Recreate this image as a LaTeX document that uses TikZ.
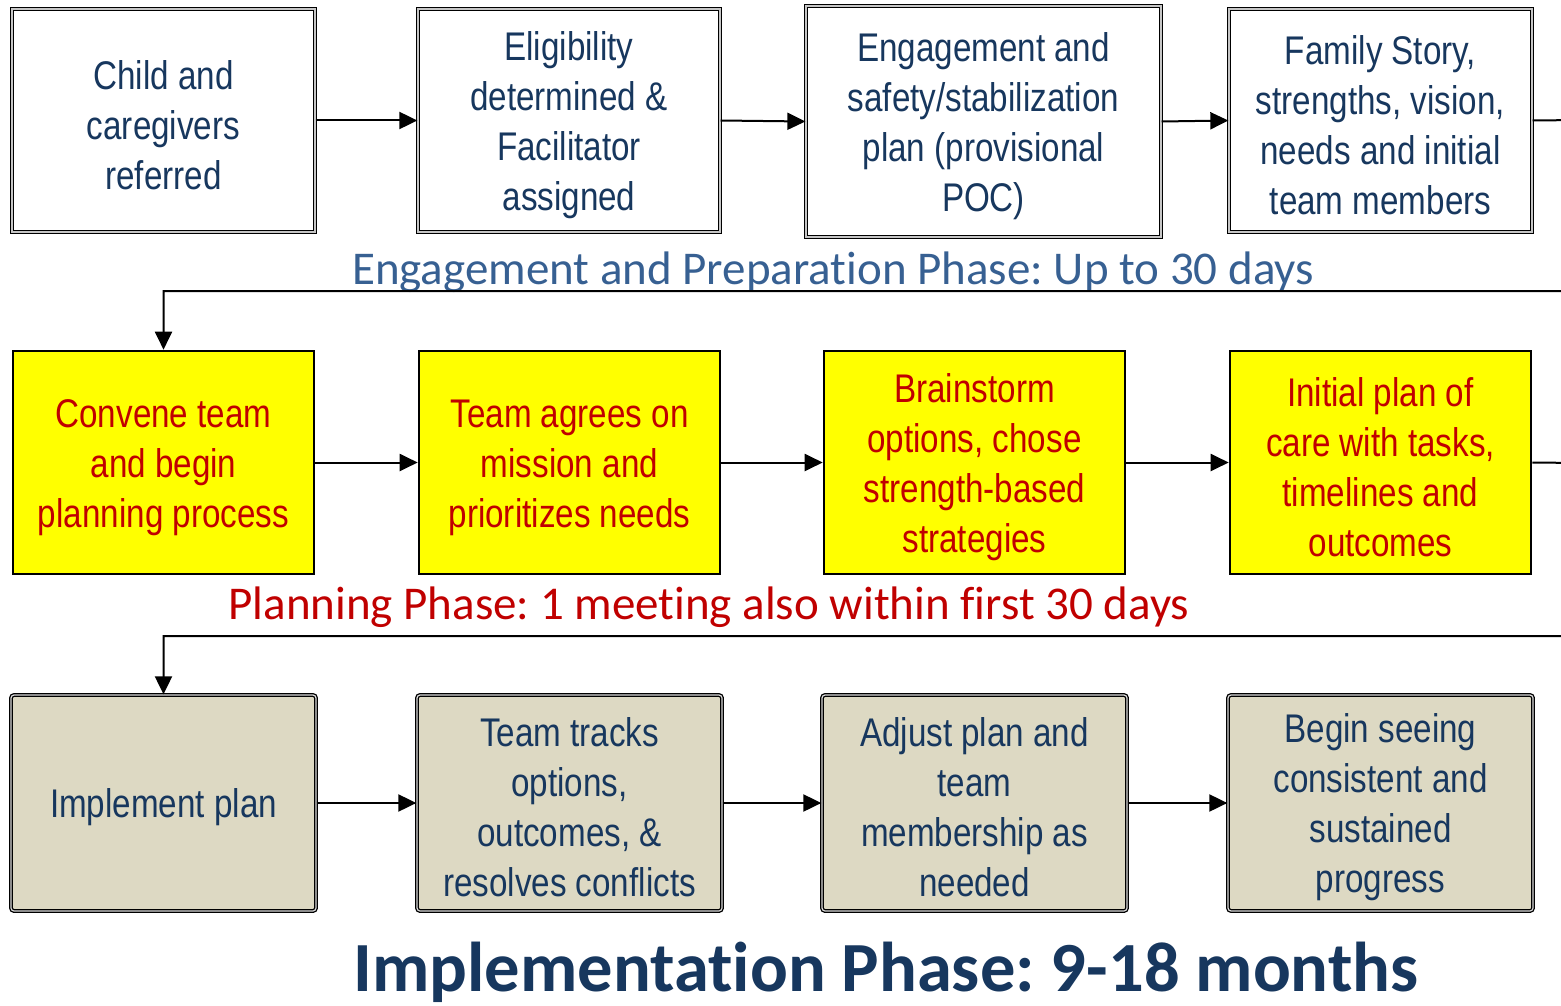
\documentclass[tikz,border=0pt]{standalone}
\usepackage{fontspec}
\usetikzlibrary{arrows.meta}
\newfontfamily\boxfont{Liberation Sans}[FakeStretch=0.83]
\newfontfamily\calfont{Carlito}[Ligatures=NoCommon]
\definecolor{dblue}{HTML}{17375E}
\definecolor{lblue}{HTML}{376092}
\definecolor{dred}{HTML}{C00000}
\definecolor{tan}{HTML}{DDD9C3}
\definecolor{yel}{HTML}{FFFF00}
\newcommand\tpad{\rule{0pt}{38pt}}
\frenchspacing
\tikzset{
  base/.style={rectangle, inner sep=0pt, align=center, text=dblue,
    font=\boxfont\fontsize{40}{50}\selectfont},
  topbox/.style={base, fill=white, draw=black, line width=1.3pt, double=gray!45, double distance=1.2pt},
  midbox/.style={base, fill=yel, draw=black, line width=2.6pt, text=dred},
  botbox/.style={base, fill=tan, draw=black, line width=1.3pt, double=gray!30, double distance=1.2pt, rounded corners=3pt},
  conn/.style={line width=2pt, -{Triangle[length=18pt,width=17pt]}},
  phase/.style={font=\calfont\fontsize{47}{54}\selectfont, inner sep=0pt},
}
\begin{document}
\begin{tikzpicture}[x=1pt,y=-1pt]
\useasboundingbox (0,0) rectangle (1561,1006);
\clip (0,0) rectangle (1561,1006);
% row 1
\node[topbox, minimum width=303, minimum height=223] (b1) at (163.5,120.5) {\tpad Child and\\caregivers\\referred};
\node[topbox, minimum width=302, minimum height=223] (b2) at (569,120.5) {\tpad Eligibility\\determined \&\\Facilitator\\assigned};
\node[topbox, minimum width=355, minimum height=231] (b3) at (983.5,121.5) {\tpad Engagement and\\safety/stabilization\\plan (provisional\\POC)};
\node[topbox, minimum width=303, minimum height=223] (b4) at (1380.5,120.5) {\tpad Family Story,\\strengths, vision,\\needs and initial\\team members};
% row 2
\node[midbox, minimum width=301, minimum height=223] (b5) at (163.5,462.5) {\tpad Convene team\\and begin\\planning process};
\node[midbox, minimum width=301, minimum height=223] (b6) at (569.5,462.5) {\tpad Team agrees on\\mission and\\prioritizes needs};
\node[midbox, minimum width=301, minimum height=223] (b7) at (974.5,462.5) {\tpad Brainstorm\\options, chose\\strength-based\\strategies};
\node[midbox, minimum width=301, minimum height=223] (b8) at (1380.5,462.5) {\tpad Initial plan of\\care with tasks,\\timelines and\\outcomes};
% row 3
\node[botbox, minimum width=305, minimum height=216] (b9) at (163.5,803) {\tpad Implement plan};
\node[botbox, minimum width=305, minimum height=216] (b10) at (569.5,803) {\tpad Team tracks\\options,\\outcomes, \&\\resolves conflicts};
\node[botbox, minimum width=305, minimum height=216] (b11) at (974.5,803) {\tpad Adjust plan and\\team\\membership as\\needed};
\node[botbox, minimum width=305, minimum height=216] (b12) at (1380.5,803) {\tpad Begin seeing\\consistent and\\sustained\\progress};
% phase labels
\node[phase, text=lblue] (l1) at (833,272) {Engagement and Preparation Phase: Up to 30 days};
\node[phase, text=dred] (l2) at (709,607) {Planning Phase: 1 meeting also within first 30 days};
\node[font=\calfont\bfseries\fontsize{70.5}{76}\selectfont, text=dblue, inner sep=0pt] (l3) at (886,972) {Implementation Phase: 9-18 months};
% connectors
\draw[conn] (b1.east) -- (b2.west);
\draw[conn] (b2.east) -- (b3.west);
\draw[conn] (b3.east) -- (b4.west);
\coordinate (r1) at (1580,120);
\coordinate (r2) at (1580,291);
\draw[conn] (b4.east) -- (r1) -- (r2) -| (b5.north);
\draw[conn] (b5.east) -- (b6.west);
\draw[conn] (b6.east) -- (b7.west);
\draw[conn] (b7.east) -- (b8.west);
\coordinate (r3) at (1580,463);
\coordinate (r4) at (1580,636);
\draw[conn] (b8.east) -- (r3) -- (r4) -| (b9.north);
\draw[conn] (b9.east) -- (b10.west);
\draw[conn] (b10.east) -- (b11.west);
\draw[conn] (b11.east) -- (b12.west);
\end{tikzpicture}
\end{document}
